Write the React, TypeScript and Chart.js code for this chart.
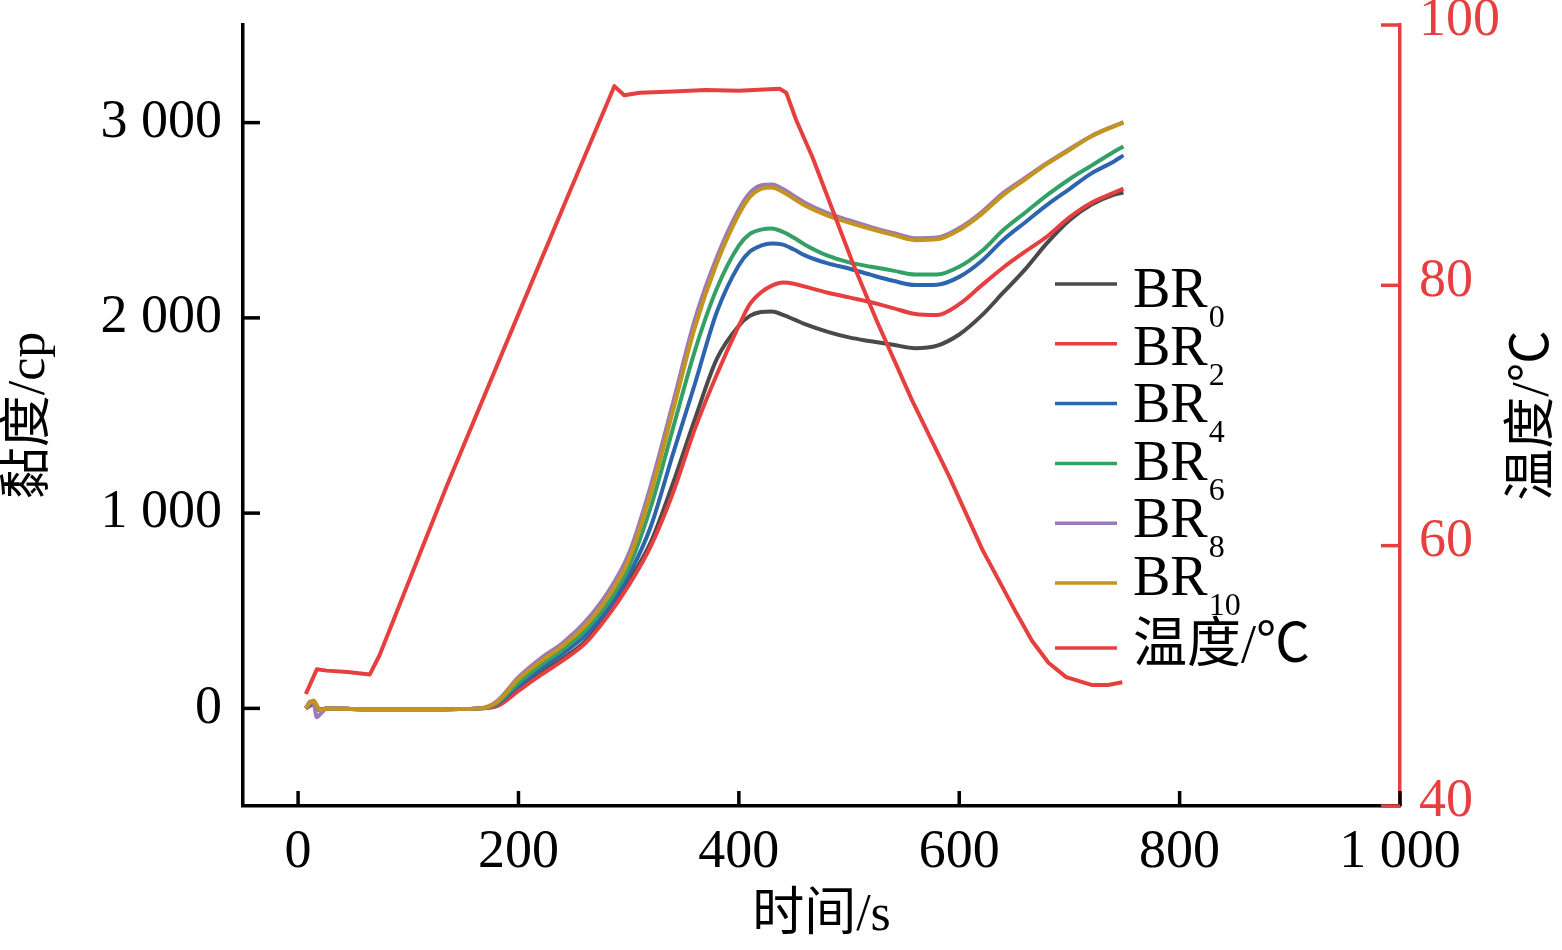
import { useEffect, useRef } from "react";
import Chart from "chart.js/auto";

// 黏度曲线的时间点 (s)
const TIME = [
  7, 11, 14, 17, 20, 26, 60, 120, 165, 180, 200, 220, 240, 260, 280, 300, 320, 340, 360, 380,
  400, 410, 420, 430, 440, 450, 460, 480, 500, 520, 540, 560, 580, 600, 620, 640, 660, 680,
  700, 720, 740, 749,
];

const BR0 = [
  0, 15, 20, 5, -5, 0, -5, -5, 0, 15, 100, 180, 255, 340, 480, 650, 850, 1150, 1480, 1790,
  1960, 2010, 2030, 2033, 2015, 1992, 1968, 1930, 1900, 1880, 1862, 1845, 1858, 1915, 2010,
  2130, 2250, 2385, 2500, 2580, 2630, 2642,
];
const BR2 = [
  0, 15, 20, 5, -5, 0, -5, -5, 0, 10, 90, 170, 245, 330, 465, 630, 830, 1100, 1430, 1710,
  1960, 2070, 2130, 2165, 2181, 2175, 2160, 2130, 2105, 2080, 2050, 2020, 2015, 2070, 2165,
  2258, 2340, 2418, 2515, 2590, 2640, 2662,
];
const BR4 = [
  0, 20, 25, 0, -10, 0, -5, -5, 0, 20, 115, 200, 280, 370, 500, 680, 930, 1300, 1660, 2030,
  2270, 2340, 2370, 2381, 2375, 2350, 2320, 2280, 2253, 2220, 2190, 2168, 2170, 2210, 2290,
  2400, 2490, 2580, 2660, 2740, 2800, 2832,
];
const BR6 = [
  0, 25, 30, 5, -10, 0, -5, -5, 0, 25, 130, 220, 300, 395, 530, 720, 1030, 1430, 1830, 2150,
  2370, 2430, 2452, 2458, 2440, 2410, 2375, 2320, 2284, 2262, 2242, 2222, 2222, 2262, 2340,
  2450, 2540, 2630, 2710, 2780, 2850, 2878,
];
const BR8 = [
  0, 35, 30, -45, -30, 0, -5, -5, 0, 35, 160, 255, 335, 440, 585, 790, 1140, 1560, 1990, 2310,
  2555, 2640, 2678, 2683, 2660, 2625, 2590, 2538, 2500, 2465, 2435, 2408, 2412, 2460, 2540,
  2640, 2718, 2795, 2865, 2932, 2982, 3002,
];
const BR10 = [
  0, 30, 40, 15, -8, 0, -5, -5, 0, 30, 150, 240, 320, 420, 560, 760, 1100, 1520, 1950, 2280,
  2530, 2620, 2660, 2668, 2645, 2610, 2575, 2525, 2488, 2455, 2425, 2398, 2402, 2450, 2530,
  2630, 2710, 2790, 2860, 2930, 2980, 3000,
];

// 温度曲线
const TEMP_TIME = [
  7, 17, 26, 45, 65, 74, 135, 201, 246, 287, 296, 310, 340, 370, 400, 437, 443, 452, 467, 485,
  503, 525, 557, 591, 621, 652, 666, 681, 697, 720, 735, 748,
];
const TEMP = [
  48.6, 50.5, 50.4, 50.3, 50.1, 51.6, 64.6, 78.0, 87.1, 95.3, 94.6, 94.8, 94.9, 95.0, 94.95,
  95.1, 94.8, 92.7, 89.8, 85.8, 81.8, 77.3, 71.2, 65.3, 59.7, 54.8, 52.7, 51.0, 49.9, 49.3,
  49.3, 49.5,
];

const X_TICKS = [0, 200, 400, 600, 800, 1000];
const VIS_TICKS = [0, 1000, 2000, 3000];
const TEMP_TICKS = [40, 60, 80, 100];

const X_TITLE = "时间/s";
const Y_TITLE = "黏度/cp";
const Y2_TITLE = "温度/℃";
const TEMP_NAME = "温度/℃";

const RED = "#e5403f";
const FONT = "'Liberation Serif', 'Noto Sans CJK SC', serif";

const SERIES = [
  { name: "BR0", color: "#4a4a4a", values: BR0 },
  { name: "BR2", color: "#e5403f", values: BR2 },
  { name: "BR4", color: "#2c64ae", values: BR4 },
  { name: "BR6", color: "#35a065", values: BR6 },
  { name: "BR8", color: "#9c7ab8", values: BR8 },
  { name: "BR10", color: "#c3951f", values: BR10 },
];

// 千位用空格分隔
const fmt = (v: number) => String(v).replace(/\B(?=(\d{3})+(?!\d))/g, " ");

const decorPlugin = {
  id: "decor",
  afterDraw(chart: any) {
    const { ctx, chartArea } = chart;
    const xs = chart.scales.x;
    const ys = chart.scales.y;
    const y1 = chart.scales.y1;
    ctx.save();

    // 向内的刻度线
    ctx.lineWidth = 3.5;
    ctx.strokeStyle = "#000";
    const seg = (a: number, b: number, c: number, d: number) => {
      ctx.beginPath();
      ctx.moveTo(a, b);
      ctx.lineTo(c, d);
      ctx.stroke();
    };
    X_TICKS.forEach((v) => {
      const px = xs.getPixelForValue(v);
      seg(px, chartArea.bottom, px, chartArea.bottom - 15);
    });
    VIS_TICKS.forEach((v) => {
      const py = ys.getPixelForValue(v);
      seg(chartArea.left, py, chartArea.left + 17, py);
    });
    ctx.strokeStyle = RED;
    TEMP_TICKS.forEach((v) => {
      const py = y1.getPixelForValue(v);
      seg(chartArea.right - 19, py, chartArea.right, py);
    });

    // 轴标题
    const midY = (chartArea.top + chartArea.bottom) / 2;
    ctx.textAlign = "center";
    ctx.textBaseline = "middle";
    ctx.font = `52px ${FONT}`;
    ctx.fillStyle = "#000";
    ctx.fillText(X_TITLE, (chartArea.left + chartArea.right) / 2, 916);
    ctx.save();
    ctx.translate(30, midY);
    ctx.rotate(-Math.PI / 2);
    ctx.fillText(Y_TITLE, 0, 0);
    ctx.restore();
    ctx.save();
    ctx.translate(chartArea.right + 134, midY);
    ctx.rotate(-Math.PI / 2);
    ctx.fillText(Y2_TITLE, 0, 0);
    ctx.restore();

    // 图例 (带下标)
    const lx = 1055;
    const tx = 1133;
    const entries = [
      ...SERIES.map((s) => ({ name: s.name, color: s.color })),
      { name: TEMP_NAME, color: RED },
    ];
    entries.forEach((e, i) => {
      const last = i === entries.length - 1;
      const ly = last ? 648 : 284 + i * 59.8;
      ctx.strokeStyle = e.color;
      ctx.lineWidth = 3.5;
      seg(lx, ly, lx + 62, ly);
      ctx.fillStyle = "#000";
      ctx.textAlign = "left";
      const m = e.name.match(/^([A-Za-z]+)(\d+)$/);
      if (m) {
        const base = 307 + i * 57.6;
        ctx.textBaseline = "alphabetic";
        ctx.font = `56px ${FONT}`;
        ctx.fillText(m[1], tx, base);
        const w = ctx.measureText(m[1]).width;
        ctx.font = `32px ${FONT}`;
        ctx.fillText(m[2], tx + w + 1, base + 20);
      } else {
        ctx.textBaseline = "middle";
        ctx.font = `54px ${FONT}`;
        ctx.fillText(e.name, tx, ly);
      }
    });

    ctx.restore();
  },
};

export default function App() {
  const canvasRef = useRef<HTMLCanvasElement>(null);

  useEffect(() => {
    document.body.style.margin = "0";
    const ctx = canvasRef.current?.getContext("2d");
    if (!ctx) return;

    const visSets = SERIES.map((s, i) => ({
      label: s.name,
      data: TIME.map((t, j) => ({ x: t, y: s.values[j] })),
      borderColor: s.color,
      backgroundColor: s.color,
      borderWidth: 4,
      pointRadius: 0,
      cubicInterpolationMode: "monotone" as const,
      yAxisID: "y",
      order: 6 - i,
    }));

    const chart = new Chart(ctx, {
      type: "line",
      data: {
        datasets: [
          ...visSets,
          {
            label: TEMP_NAME,
            data: TEMP_TIME.map((t, j) => ({ x: t, y: TEMP[j] })),
            borderColor: RED,
            backgroundColor: RED,
            borderWidth: 4,
            pointRadius: 0,
            tension: 0,
            borderJoinStyle: "round" as const,
            yAxisID: "y1",
            order: 0,
          },
        ],
      },
      options: {
        responsive: false,
        animation: false,
        layout: { padding: { top: 25, left: 0, right: 0, bottom: 0 } },
        plugins: { legend: { display: false }, tooltip: { enabled: false } },
        scales: {
          x: {
            type: "linear",
            min: -50,
            max: 1000,
            afterBuildTicks: (s: any) => {
              s.ticks = X_TICKS.map((v) => ({ value: v }));
            },
            afterFit: (s: any) => {
              s.height = 144;
            },
            ticks: {
              callback: (v: any) => fmt(Number(v)),
              color: "#000",
              font: { family: FONT, size: 54, lineHeight: 1.2 },
              padding: 14,
              maxRotation: 0,
              autoSkip: false,
            },
            grid: { display: false, drawTicks: false },
            border: { display: true, color: "#000", width: 3.5 },
          },
          y: {
            type: "linear",
            position: "left",
            min: -500,
            max: 3500,
            afterBuildTicks: (s: any) => {
              s.ticks = VIS_TICKS.map((v) => ({ value: v }));
            },
            afterFit: (s: any) => {
              s.width = 243;
            },
            ticks: {
              callback: (v: any) => fmt(Number(v)),
              color: "#000",
              font: { family: FONT, size: 54, lineHeight: 0.1 },
              padding: 21,
              autoSkip: false,
            },
            grid: { display: false, drawTicks: false },
            border: { display: true, color: "#000", width: 3.5 },
          },
          y1: {
            type: "linear",
            position: "right",
            min: 40,
            max: 100,
            afterBuildTicks: (s: any) => {
              s.ticks = TEMP_TICKS.map((v) => ({ value: v }));
            },
            afterFit: (s: any) => {
              s.width = 162;
            },
            ticks: {
              color: RED,
              font: { family: FONT, size: 54, lineHeight: 0.1 },
              padding: 19,
              labelOffset: -4,
              autoSkip: false,
            },
            grid: { display: false, drawTicks: false },
            border: { display: true, color: RED, width: 3.5 },
          },
        },
      },
      plugins: [decorPlugin],
    });

    return () => chart.destroy();
  }, []);

  return (
    <div style={{ width: 1562, height: 950, background: "#fff" }}>
      <canvas ref={canvasRef} width={1562} height={950} />
    </div>
  );
}
